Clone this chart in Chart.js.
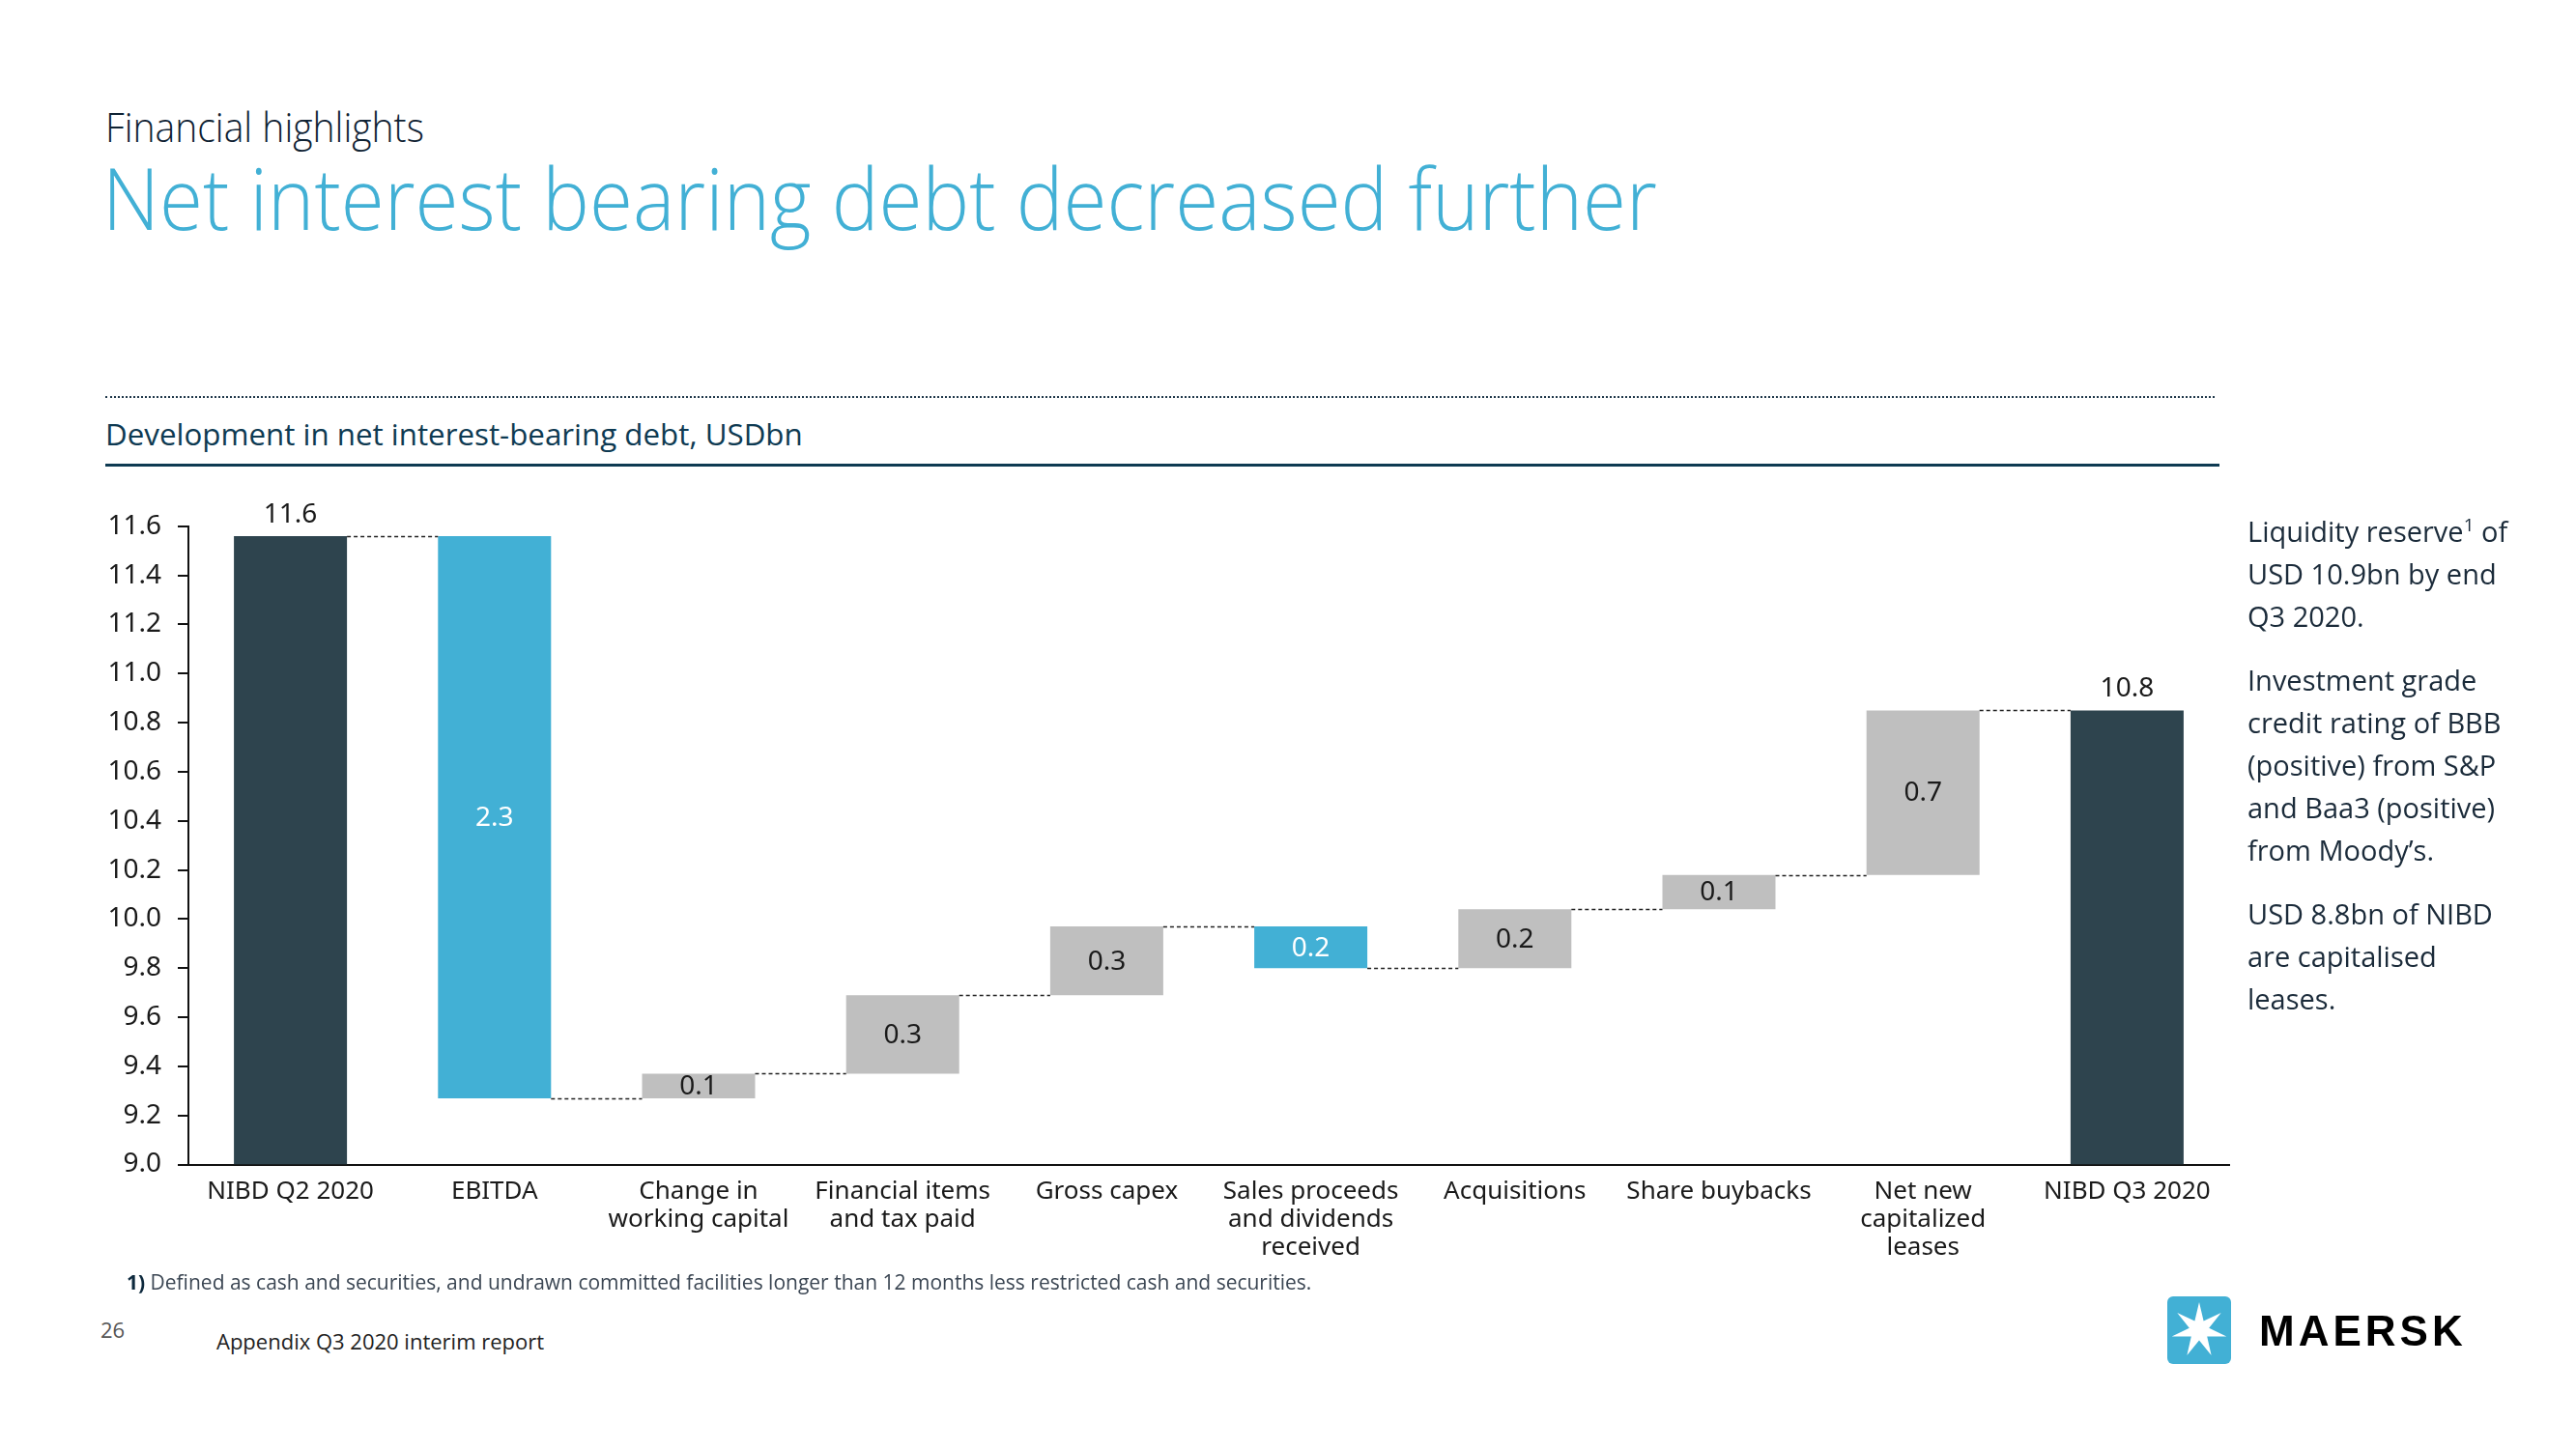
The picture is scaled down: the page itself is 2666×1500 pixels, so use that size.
<!DOCTYPE html>
<html lang="en">
<head>
  <meta charset="UTF-8" />
  <title>Net interest bearing debt decreased further</title>
  <script src="https://cdn.jsdelivr.net/npm/chart.js"></script>
  <style>
    body { margin: 0; background: #fff; }
    #page { position: relative; width: 2666px; height: 1500px; overflow: hidden; font-family: 'Open Sans', 'Noto Sans', sans-serif; }
    .abs { position: absolute; white-space: nowrap; }
    #kicker { left: 109px; top: 110px; font-size: 42px; line-height: 1; color: #0f2233; font-weight: 300; transform: scaleX(0.93); transform-origin: left top; }
    #title { left: 106px; top: 160px; font-size: 88px; line-height: 1; color: #42b0d5; font-weight: 300; transform: scaleX(0.93); transform-origin: left top; }
    #dots { left: 109px; top: 410px; width: 2183px; border-top: 2px dotted #20384a; }
    #subtitle { left: 109px; top: 434px; font-size: 31px; line-height: 1; color: #0e3a52; transform: scaleX(1.01); transform-origin: left top; }
    #rule { left: 109px; top: 480px; width: 2188px; height: 3px; background: #0e3a52; }
    #side { left: 2326px; top: 528px; font-size: 29px; line-height: 44px; color: #1b2b3a; }
    #side p { margin: 0 0 22px 0; }
    #side sup { font-size: 19px; line-height: 0; vertical-align: 11px; }
    #note { left: 131px; top: 1317px; font-size: 21px; line-height: 1; color: #3b4653; }
    #note b { color: #0e2a3e; }
    #pageno { left: 104px; top: 1365px; font-size: 22px; line-height: 1; color: #555; }
    #footer { left: 224px; top: 1377px; font-size: 22px; line-height: 1; color: #222; }
    #chartBox { left: 0; top: 480px; width: 2340px; height: 860px; }
    #logo { left: 2240px; top: 1338px; }
  </style>
</head>
<body>
<div id="page">
  <div class="abs" id="kicker">Financial highlights</div>
  <div class="abs" id="title">Net interest bearing debt decreased further</div>
  <div class="abs" id="dots"></div>
  <div class="abs" id="subtitle">Development in net interest-bearing debt, USDbn</div>
  <div class="abs" id="rule"></div>

  <div class="abs" id="chartBox"><canvas id="nibdChart" width="2340" height="860"></canvas></div>

  <div class="abs" id="side">
    <p>Liquidity reserve<sup>1</sup> of<br>USD 10.9bn by end<br>Q3 2020.</p>
    <p>Investment grade<br>credit rating of BBB<br>(positive) from S&amp;P<br>and Baa3 (positive)<br>from Moody’s.</p>
    <p>USD 8.8bn of NIBD<br>are capitalised<br>leases.</p>
  </div>

  <div class="abs" id="note"><b>1)</b> Defined as cash and securities, and undrawn committed facilities longer than 12 months less restricted cash and securities.</div>
  <div class="abs" id="pageno">26</div>
  <div class="abs" id="footer">Appendix Q3 2020 interim report</div>

  <svg class="abs" id="logo" width="330" height="80">
    <rect x="3" y="4" width="66" height="70" rx="6" fill="#42b0d5"></rect>
    <polygon id="star" fill="#fff"></polygon>
    <text x="98" y="55" font-family="'Liberation Sans', Arial, sans-serif" font-weight="bold" font-size="44" letter-spacing="4" fill="#000">MAERSK</text>
  </svg>
</div>

<script>
  // waterfall data, USDbn
  const categories = [
    'NIBD Q2 2020',
    'EBITDA',
    ['Change in', 'working capital'],
    ['Financial items', 'and tax paid'],
    'Gross capex',
    ['Sales proceeds', 'and dividends', 'received'],
    'Acquisitions',
    'Share buybacks',
    ['Net new', 'capitalized', 'leases'],
    'NIBD Q3 2020'
  ];
  const startValue = 11.56;
  const changes = [-2.29, 0.10, 0.32, 0.28, -0.17, 0.24, 0.14, 0.67];
  const endValue = 10.85;
  const valueLabels = ['11.6', '2.3', '0.1', '0.3', '0.3', '0.2', '0.2', '0.1', '0.7', '10.8'];
  const yTicks = [9.0, 9.2, 9.4, 9.6, 9.8, 10.0, 10.2, 10.4, 10.6, 10.8, 11.0, 11.2, 11.4, 11.6];

  const DARK = '#2e444e';
  const BLUE = '#42b0d5';
  const GREY = '#bfbfbf';

  // floating bars: [from, to]
  const bars = [[yTicks[0], startValue]];
  let level = startValue;
  changes.forEach(c => {
    bars.push([level, level + c]);
    level = level + c;
  });
  bars.push([yTicks[0], endValue]);

  const colors = bars.map((b, i) => {
    if (i === 0 || i === bars.length - 1) return DARK;
    return b[1] < b[0] ? BLUE : GREY;
  });

  // star polygon for the logo
  (function () {
    const pts = [];
    const cx = 36, cy = 39, ro = 29, ri = 10.5;
    for (let k = 0; k < 14; k++) {
      const r = k % 2 === 0 ? ro : ri;
      const a = -Math.PI / 2 + k * Math.PI / 7;
      pts.push((cx + r * Math.cos(a)).toFixed(1) + ',' + (cy + r * Math.sin(a)).toFixed(1));
    }
    document.getElementById('star').setAttribute('points', pts.join(' '));
  })();

  const connectors = {
    id: 'connectors',
    afterDatasetsDraw(chart) {
      const ctx = chart.ctx;
      const y = chart.scales.y;
      const els = chart.getDatasetMeta(0).data;
      ctx.save();
      ctx.strokeStyle = '#222';
      ctx.lineWidth = 1.3;
      ctx.setLineDash([4, 3]);
      for (let i = 0; i < els.length - 1; i++) {
        const v = bars[i][1];
        const py = Math.round(y.getPixelForValue(v)) + 0.5;
        ctx.beginPath();
        ctx.moveTo(els[i].x + els[i].width / 2, py);
        ctx.lineTo(els[i + 1].x - els[i + 1].width / 2, py);
        ctx.stroke();
      }
      ctx.restore();
    }
  };

  const valueText = {
    id: 'valueText',
    afterDatasetsDraw(chart) {
      const ctx = chart.ctx;
      const els = chart.getDatasetMeta(0).data;
      ctx.save();
      ctx.font = "28px 'Noto Sans', sans-serif";
      ctx.textAlign = 'center';
      ctx.textBaseline = 'middle';
      els.forEach((el, i) => {
        const top = Math.min(el.y, el.base);
        const bottom = Math.max(el.y, el.base);
        if (i === 0 || i === els.length - 1) {
          ctx.fillStyle = '#1a1a1a';
          ctx.fillText(valueLabels[i], el.x, top - 22);
        } else {
          ctx.fillStyle = colors[i] === BLUE ? '#ffffff' : '#1a1a1a';
          ctx.fillText(valueLabels[i], el.x, (top + bottom) / 2 + 1);
        }
      });
      ctx.restore();
    }
  };

  Chart.defaults.font.family = "'Noto Sans', sans-serif";
  Chart.defaults.color = '#1a1a1a';

  new Chart(document.getElementById('nibdChart').getContext('2d'), {
    type: 'bar',
    data: {
      labels: categories,
      datasets: [{
        data: bars,
        backgroundColor: colors,
        borderWidth: 0,
        barPercentage: 0.554,
        categoryPercentage: 1.0
      }]
    },
    options: {
      responsive: false,
      animation: false,
      layout: { padding: { top: 64.8, right: 33, bottom: 0, left: 0 } },
      plugins: {
        legend: { display: false },
        tooltip: { enabled: false },
        title: { display: false }
      },
      scales: {
        x: {
          grid: { display: false, drawTicks: false },
          border: { display: true, color: '#111', width: 2 },
          ticks: {
            padding: 13,
            maxRotation: 0,
            autoSkip: false,
            color: '#1a1a1a',
            font: { size: 26, lineHeight: 1.13 }
          },
          afterFit(scale) { scale.height = 134.5; }
        },
        y: {
          min: yTicks[0],
          max: yTicks[yTicks.length - 1],
          afterBuildTicks(scale) { scale.ticks = yTicks.map(v => ({ value: v })); },
          grid: { drawOnChartArea: false, drawTicks: true, tickLength: 11, color: '#111', lineWidth: 2 },
          border: { display: true, color: '#111', width: 2 },
          ticks: {
            padding: 17,
            color: '#1a1a1a',
            font: { size: 28 },
            callback: v => Number(v).toFixed(1)
          },
          afterFit(scale) { scale.width = 195; }
        }
      }
    },
    plugins: [connectors, valueText]
  });
</script>
</body>
</html>
